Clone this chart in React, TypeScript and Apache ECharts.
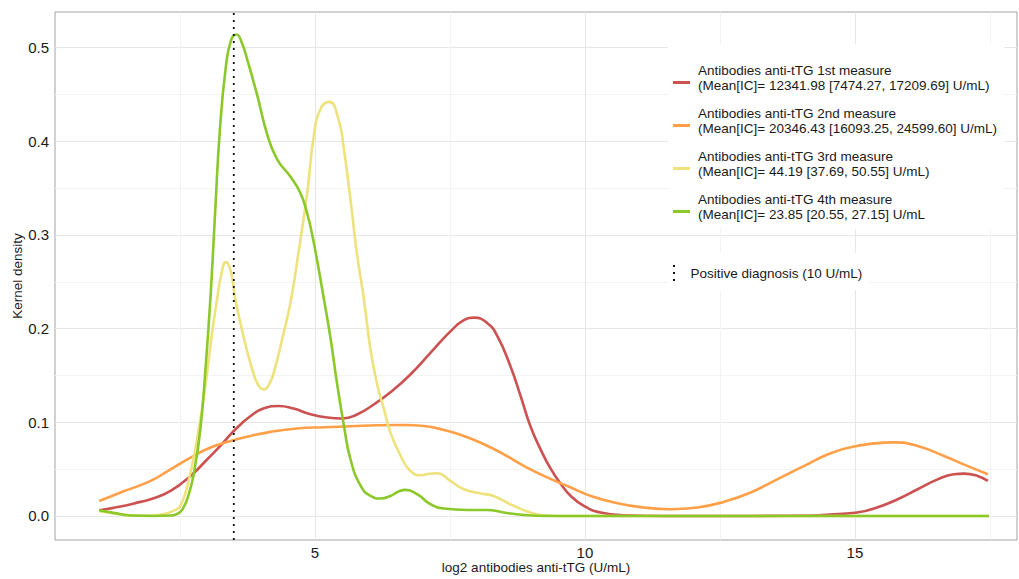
import { useEffect, useRef } from "react";
import * as echarts from "echarts";

// ---------- data ----------
const seriesNames = [
  "Antibodies anti-tTG 1st measure\n(Mean[IC]= 12341.98 [7474.27, 17209.69] U/mL)",
  "Antibodies anti-tTG 2nd measure\n(Mean[IC]= 20346.43 [16093.25, 24599.60] U/mL)",
  "Antibodies anti-tTG 3rd measure\n(Mean[IC]= 44.19 [37.69, 50.55] U/mL)",
  "Antibodies anti-tTG 4th measure\n(Mean[IC]= 23.85 [20.55, 27.15] U/mL",
];
const seriesColors = ["#cc5151", "#ffa048", "#eee27c", "#8bc82a"];

const measure1: [number, number][] = [
  [1.01, 0.006], [1.4, 0.010], [1.77, 0.015], [1.96, 0.0178], [2.33, 0.0267],
  [2.70, 0.0427], [3.01, 0.0605], [3.25, 0.0747], [3.50, 0.0907], [3.81, 0.1067],
  [4.06, 0.115], [4.33, 0.1174], [4.61, 0.1146], [4.92, 0.1085], [5.23, 0.105],
  [5.51, 0.104], [5.79, 0.1085], [6.09, 0.119], [6.40, 0.132], [6.77, 0.151],
  [7.14, 0.174], [7.51, 0.197], [7.76, 0.209], [7.95, 0.2117], [8.19, 0.206],
  [8.38, 0.192], [8.62, 0.160], [8.81, 0.128], [8.99, 0.096], [9.18, 0.071],
  [9.36, 0.051], [9.55, 0.0345], [9.74, 0.0213], [9.98, 0.0107], [10.29, 0.0036],
  [10.72, 0.0007], [11.5, 0], [13, 0], [14.2, 0.0005], [14.61, 0.0018],
  [15.04, 0.0036], [15.41, 0.009], [15.79, 0.0178], [16.16, 0.0285], [16.53, 0.039],
  [16.83, 0.0445], [17.02, 0.0452], [17.27, 0.0427], [17.46, 0.0374],
];

const measure2: [number, number][] = [
  [1.01, 0.016], [1.45, 0.026], [1.96, 0.0374], [2.33, 0.0498],
  [2.70, 0.0623], [3.07, 0.073], [3.44, 0.080], [3.81, 0.0854], [4.18, 0.0897],
  [4.67, 0.0933], [5.17, 0.0947], [5.66, 0.0957], [6.16, 0.0968], [6.65, 0.0971],
  [7.02, 0.096], [7.39, 0.0918], [7.76, 0.0854], [8.13, 0.0765], [8.50, 0.0658],
  [8.87, 0.0534], [9.24, 0.0427], [9.74, 0.0303], [10.11, 0.0213], [10.60, 0.0136],
  [11.09, 0.009], [11.59, 0.0072], [12.08, 0.009], [12.57, 0.015], [13.07, 0.025],
  [13.56, 0.039], [14.06, 0.0534], [14.55, 0.067], [15.04, 0.0747], [15.54, 0.0783],
  [15.72, 0.0785], [16.16, 0.0747], [16.65, 0.064], [17.08, 0.0534], [17.46, 0.0445],
];

const measure3: [number, number][] = [
  [1.01, 0.005], [1.3, 0.0025], [1.6, 0.0005], [2.0, 0.0003], [2.2, 0.002],
  [2.4, 0.006], [2.51, 0.0107], [2.64, 0.032], [2.82, 0.082], [2.98, 0.142],
  [3.10, 0.196], [3.19, 0.231], [3.27, 0.258], [3.35, 0.271], [3.44, 0.262],
  [3.53, 0.231], [3.69, 0.189], [3.84, 0.157], [3.95, 0.140], [4.06, 0.135],
  [4.15, 0.140], [4.24, 0.153], [4.40, 0.19], [4.55, 0.228], [4.70, 0.282],
  [4.86, 0.345], [4.98, 0.405], [5.11, 0.435], [5.27, 0.442], [5.44, 0.423],
  [5.54, 0.391], [5.66, 0.338], [5.78, 0.28], [5.91, 0.231], [6.03, 0.178],
  [6.16, 0.139], [6.28, 0.114], [6.40, 0.089], [6.59, 0.064], [6.77, 0.048],
  [6.96, 0.0434], [7.12, 0.045], [7.27, 0.0456], [7.51, 0.0374], [7.76, 0.0285],
  [8.07, 0.0239], [8.31, 0.0213], [8.62, 0.0125], [8.99, 0.0036], [9.24, 0.0007],
  [9.6, 0], [12, 0], [17.48, 0],
];

const measure4: [number, number][] = [
  [1.01, 0.006], [1.3, 0.003], [1.6, 0.0005], [2.0, 0.0], [2.35, 0.0005],
  [2.48, 0.003], [2.57, 0.009], [2.66, 0.022], [2.76, 0.045], [2.88, 0.092],
  [2.98, 0.16], [3.07, 0.235], [3.16, 0.33], [3.24, 0.41], [3.35, 0.478],
  [3.45, 0.508], [3.55, 0.514], [3.65, 0.505], [3.75, 0.487], [3.93, 0.45],
  [4.12, 0.407], [4.30, 0.381], [4.55, 0.362], [4.73, 0.345], [4.85, 0.325],
  [4.97, 0.295], [5.17, 0.231], [5.29, 0.19], [5.41, 0.142], [5.54, 0.096],
  [5.66, 0.0605], [5.85, 0.032], [6.03, 0.0213], [6.22, 0.0186], [6.40, 0.0213],
  [6.55, 0.026], [6.68, 0.0278], [6.90, 0.023], [7.14, 0.0125], [7.39, 0.0079],
  [7.82, 0.0064], [8.19, 0.0064], [8.5, 0.0036], [8.87, 0.001], [9.3, 0],
  [12, 0], [15, 0], [17.48, 0],
];

const diagnosisName = "Positive diagnosis (10 U/mL)";
const diagnosisX = 3.5;

const xRange = [0.19, 18.0];
const yRange = [-0.0257, 0.538];
const xTickStep = 5;
const yTickStep = 0.1;

const xTitle = "log2 antibodies anti-tTG (U/mL)";
const yTitle = "Kernel density";

const FONT = "'Liberation Sans', Arial, Helvetica, sans-serif";
const TEXT = "#1a1a1a";

export default function App() {
  const ref = useRef<HTMLDivElement>(null);

  useEffect(() => {
    if (!ref.current) return;
    const chart = echarts.init(ref.current, undefined, { renderer: "svg" });
    const measures = [measure1, measure2, measure3, measure4];

    const lineSeries = measures.map((d, i) => ({
      name: seriesNames[i],
      type: "line",
      data: d,
      symbol: "none",
      smooth: 0.5,
      lineStyle: { color: seriesColors[i], width: 2.6 },
      itemStyle: { color: seriesColors[i] },
      z: 2 + i,
    }));

    const option: any = {
      animation: false,
      textStyle: { fontFamily: FONT },
      grid: {
        left: 55,
        right: 2,
        top: 12,
        bottom: 39,
        containLabel: false,
        outerBoundsMode: "none",
        show: true,
        borderColor: "#a3a3a3",
        borderWidth: 1,
        backgroundColor: "transparent",
      },
      xAxis: {
        type: "value",
        min: xRange[0],
        max: xRange[1],
        minInterval: xTickStep,
        maxInterval: xTickStep,
        name: xTitle,
        nameLocation: "middle",
        nameGap: 20,
        nameMoveOverlap: false,
        nameTextStyle: { fontSize: 13.5, lineHeight: 15, color: TEXT, fontFamily: FONT },
        axisLine: { show: false },
        axisTick: { show: false },
        axisLabel: {
          fontSize: 15,
          lineHeight: 15,
          color: TEXT,
          margin: 5,
          fontFamily: FONT,
          showMinLabel: false,
          showMaxLabel: false,
          formatter: (v: number) => String(v),
        },
        splitLine: {
          show: true,
          showMinLine: false,
          showMaxLine: false,
          lineStyle: { color: "#e6e6e6", width: 1 },
        },
        minorTick: { show: false, splitNumber: 2 },
        minorSplitLine: { show: true, lineStyle: { color: "#f3f3f3", width: 1 } },
      },
      yAxis: {
        type: "value",
        min: yRange[0],
        max: yRange[1],
        minInterval: yTickStep,
        maxInterval: yTickStep,
        name: yTitle,
        nameLocation: "middle",
        nameGap: 31,
        nameMoveOverlap: false,
        nameTextStyle: { fontSize: 13.5, color: TEXT, fontFamily: FONT },
        axisLine: { show: false },
        axisTick: { show: false },
        axisLabel: {
          fontSize: 15,
          color: TEXT,
          margin: 6,
          fontFamily: FONT,
          showMinLabel: false,
          showMaxLabel: false,
          formatter: (v: number) => v.toFixed(1),
        },
        splitLine: {
          show: true,
          showMinLine: false,
          showMaxLine: false,
          lineStyle: { color: "#e6e6e6", width: 1 },
        },
        minorTick: { show: false, splitNumber: 2 },
        minorSplitLine: { show: true, lineStyle: { color: "#f3f3f3", width: 1 } },
      },
      legend: [
        {
          data: seriesNames,
          orient: "vertical",
          left: 668,
          top: 44,
          padding: [19, 7, 2, 5],
          itemGap: 8,
          itemWidth: 17,
          itemHeight: 14,
          icon: "path://M0,0h17v3h-17z",
          backgroundColor: "#ffffff",
          selectedMode: false,
          formatter: (name: string) => {
            const parts = name.split("\n");
            return "{t|" + parts[0] + "}\n{t|" + parts[1] + "}\n{s| }";
          },
          textStyle: {
            fontFamily: FONT,
            fontSize: 13.5,
            color: TEXT,
            padding: [0, 0, 0, 3],
            rich: {
              t: { fontFamily: FONT, fontSize: 13.5, lineHeight: 15, color: TEXT },
              s: { fontFamily: FONT, fontSize: 1, lineHeight: 10, color: TEXT },
            },
          },
        },
        {
          data: [
            {
              name: diagnosisName,
              icon: "path://M0,0h2v2h-2z M0,7h2v2h-2z M0,14h2v2h-2z",
            },
          ],
          orient: "vertical",
          left: 668,
          top: 253,
          padding: [12, 7, 9, 5],
          itemWidth: 17,
          itemHeight: 16,
          backgroundColor: "#ffffff",
          selectedMode: false,
          textStyle: {
            fontFamily: FONT,
            fontSize: 13.5,
            lineHeight: 15,
            color: TEXT,
            padding: [0, 0, 0, 3],
          },
        },
      ],
      series: [
        ...lineSeries,
        {
          name: diagnosisName,
          type: "line",
          data: [
            [diagnosisX, yRange[0]],
            [diagnosisX, yRange[1]],
          ],
          symbol: "none",
          lineStyle: { color: "#111111", width: 1.8, type: [2, 5] },
          itemStyle: { color: "#111111" },
          z: 10,
        },
      ],
    };

    chart.setOption(option);
    return () => chart.dispose();
  }, []);

  return (
    <div
      ref={ref}
      style={{ position: "absolute", left: 0, top: 0, width: 1019, height: 579 }}
    />
  );
}
